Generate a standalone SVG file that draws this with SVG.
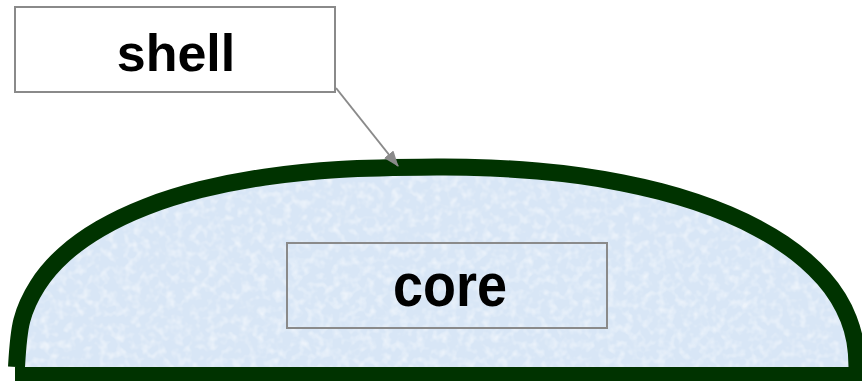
<svg xmlns="http://www.w3.org/2000/svg" width="862" height="381" viewBox="0 0 862 381">
<defs>
<style>
.box{fill:#fff;stroke:#8a8a8a;stroke-width:2}
.boxc{fill:none;stroke:#8a8a8a;stroke-width:2}
.lbl{font-family:"Liberation Sans",Arial,sans-serif;font-weight:bold;fill:#000;text-anchor:middle}
.conn{stroke:#8a8a8a;stroke-width:2;fill:none}
</style>
<marker id="ah" viewBox="0 0 16 12" refX="15" refY="6" markerWidth="16" markerHeight="12" orient="auto" markerUnits="userSpaceOnUse">
<path d="M0,0 L16,6 L0,12 z" fill="#8a8a8a"/>
</marker>
<filter id="tex" x="0" y="0" width="100%" height="100%">
<feTurbulence type="fractalNoise" baseFrequency="0.12" numOctaves="2" seed="5"/>
<feColorMatrix type="matrix" values="0 0 0 0 1  0 0 0 0 1  0 0 0 0 1  0 0 0 -2.2 1.25"/>
</filter>
<path id="dome" d="M16.5,367 C17.4,351.6 18.3,334.1 21.8,320.5 C25.3,306.9 30.7,296.2 37.7,285.2 C44.7,274.2 53.5,264.1 63.9,254.7 C74.3,245.3 86.5,236.6 100.2,228.6 C113.9,220.6 129.2,213.3 145.9,206.8 C162.7,200.3 180.9,194.6 200.7,189.6 C220.5,184.7 241.7,180.5 264.7,177.1 C287.7,173.8 310.2,171.2 338.8,169.5 C367.4,167.8 411.2,167.2 436.5,167 C461.8,166.8 473.7,167.3 490.5,168 C507.3,168.7 522.3,169.7 537.4,171 C552.5,172.3 567,173.9 581.1,175.9 C595.2,177.9 608.9,180.2 622.1,182.8 C635.3,185.4 648.1,188.3 660.4,191.5 C672.7,194.7 684.6,198.2 695.9,202 C707.2,205.8 718.1,209.9 728.4,214.3 C738.7,218.7 748.5,223.3 757.6,228.2 C766.8,233.1 775.3,238.2 783.3,243.6 C791.3,249 798.8,254.7 805.5,260.5 C812.3,266.4 818.3,272.4 823.8,278.7 C829.3,285 834.2,291.5 838.3,298.2 C842.4,304.9 845.8,311.8 848.6,319 C851.4,326.2 853.5,333.3 854.9,341.3 C856.3,349.3 857,358.4 857,367"/>
<clipPath id="domeclip">
<use href="#dome"/>
</clipPath>
</defs>
<g id="shellshape">
<use href="#dome" fill="#d8e6f6"/>
<rect x="0" y="160" width="862" height="221" filter="url(#tex)" clip-path="url(#domeclip)" opacity="0.55"/>
<use href="#dome" fill="none" stroke="#003300" stroke-width="17"/>
<rect x="15" y="367" width="847" height="14" fill="#003300"/>
</g>
<g id="shell">
<rect class="box" x="15" y="7" width="320" height="85"/>
<text class="lbl" x="176" y="71" font-size="52">shell</text>
</g>
<g id="core">
<rect class="boxc" x="287" y="243" width="320" height="85"/>
<text class="lbl" font-size="54" transform="translate(450,306) scale(1,1.12)">core</text>
</g>
<g id="connectors">
<line class="conn" x1="336" y1="88" x2="398" y2="166" marker-end="url(#ah)"/>
</g>
</svg>
